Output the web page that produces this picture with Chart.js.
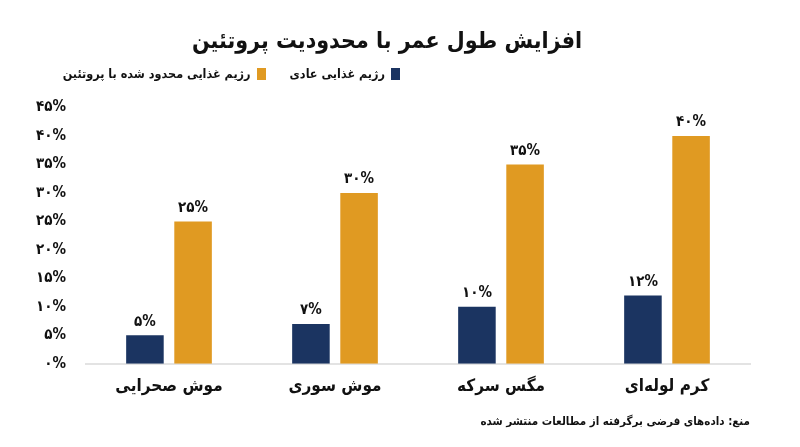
<!DOCTYPE html>
<html lang="fa">
<head>
<meta charset="utf-8">
<script src="https://cdn.jsdelivr.net/npm/chart.js@4.4.1/dist/chart.umd.min.js"></script>
<style>
  html, body { margin: 0; padding: 0; background: #fff; }
  #wrap { position: relative; width: 800px; height: 447px; }
  #legend {
    position: absolute; top: 66px; right: 400px;
    display: flex; flex-direction: row; gap: 24px;
    direction: rtl; font: bold 12.5px "DejaVu Sans Condensed", "DejaVu Sans", sans-serif; color: #111;
  }
  #legend span.item { display: flex; align-items: center; white-space: nowrap; }
  #legend i { display: inline-block; width: 9px; height: 12px; margin-left: 6px; }
</style>
</head>
<body>
<div id="wrap">
  <canvas id="lifeChart" width="800" height="447"></canvas>
  <div id="legend"></div>
</div>
<script>
// categories, right to left as in the picture
const categories = ['کرم لوله\u200cای', 'مگس سرکه', 'موش سوری', 'موش صحرایی'];
const normalDiet = [12, 10, 7, 5];
const proteinRestricted = [40, 35, 30, 25];
const seriesNames = ['رژیم غذایی عادی', 'رژیم غذایی محدود شده با پروتئین'];
const seriesColors = ['#1b3461', '#e09a22'];

const FONT = '"DejaVu Sans Condensed", "DejaVu Sans", sans-serif';

function toFa(n) {
    return String(n).replace(/[0-9]/g, d => '۰۱۲۳۴۵۶۷۸۹'[d]);
}

// draws the value above each bar
const barLabels = {
    id: 'barLabels',
    afterDatasetsDraw(chart) {
        const ctx = chart.ctx;
        ctx.save();
        ctx.font = 'bold 15px ' + FONT;
        ctx.fillStyle = '#111';
        ctx.textAlign = 'center';
        ctx.textBaseline = 'bottom';
        chart.data.datasets.forEach((ds, i) => {
            chart.getDatasetMeta(i).data.forEach((bar, j) => {
                ctx.fillText(toFa(ds.data[j]) + '%', bar.x, bar.y - 6);
            });
        });
        ctx.restore();
    }
};

const chart = new Chart(document.getElementById('lifeChart'), {
    type: 'bar',
    data: {
        labels: categories,
        datasets: [
            { label: seriesNames[0], data: normalDiet, backgroundColor: seriesColors[0] },
            { label: seriesNames[1], data: proteinRestricted, backgroundColor: seriesColors[1] }
        ]
    },
    options: {
        responsive: false,
        animation: false,
        categoryPercentage: 0.58,
        barPercentage: 0.78,
        layout: { padding: { left: 24, right: 50, top: 14, bottom: 18 } },
        plugins: {
            legend: { display: false },
            tooltip: { enabled: false },
            title: {
                display: true,
                text: 'افزایش طول عمر با محدودیت پروتئین',
                color: '#111',
                font: { family: FONT, size: 23, weight: 'bold' },
                padding: { top: 14, bottom: 52 }
            },
            subtitle: {
                display: true,
                position: 'bottom',
                align: 'end',
                text: 'منع: داده\u200cهای فرضی برگرفته از مطالعات منتشر شده',
                color: '#111',
                font: { family: FONT, size: 11.5, weight: 'bold' },
                padding: { top: 13, bottom: 0 }
            }
        },
        scales: {
            x: {
                reverse: true,
                grid: { display: false },
                border: { display: true, color: '#e3e3e3', width: 2 },
                ticks: { color: '#111', font: { family: FONT, size: 17, weight: 'bold' }, padding: 5 }
            },
            y: {
                min: 0,
                max: 45,
                grid: { display: false },
                border: { display: false },
                ticks: {
                    stepSize: 5,
                    color: '#111',
                    padding: 12,
                    font: { family: FONT, size: 15, weight: 'bold' },
                    callback: v => toFa(v) + '%'
                }
            }
        }
    },
    plugins: [barLabels]
});

// html legend built from the datasets
const legendDiv = document.getElementById('legend');
chart.data.datasets.forEach(ds => {
    const item = document.createElement('span');
    item.className = 'item';
    item.innerHTML = '<i style="background:' + ds.backgroundColor + '"></i>' + ds.label;
    legendDiv.appendChild(item);
});
</script>
</body>
</html>
